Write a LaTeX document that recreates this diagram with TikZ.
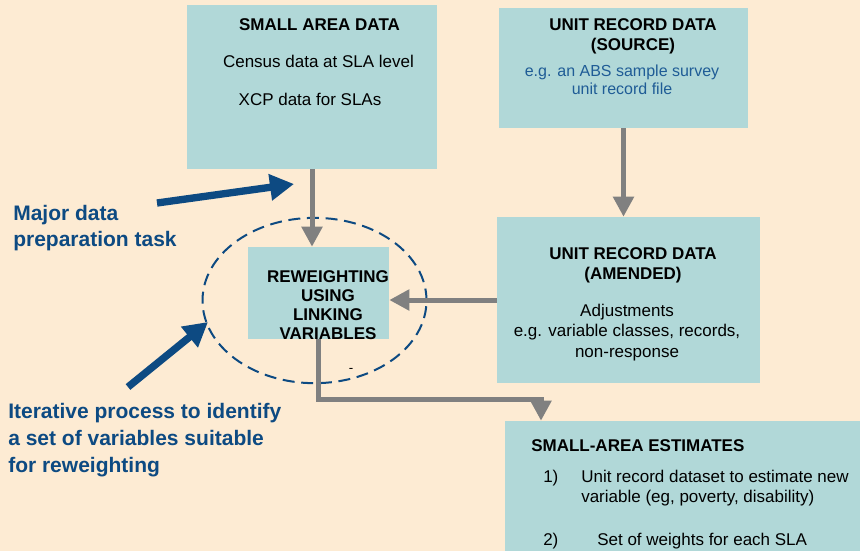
\documentclass[tikz,border=0pt]{standalone}
\usepackage{fontspec}
\setmainfont{Liberation Sans}
\usepackage{xcolor}
\usepackage{tikz}
\usetikzlibrary{shapes.geometric, arrows.meta, positioning, calc}
\definecolor{bgpeach}{HTML}{FDEBD3}
\definecolor{boxteal}{HTML}{B1D8D8}
\definecolor{noteblue}{HTML}{0D4A82}
\definecolor{egblue}{HTML}{1F5C96}
\definecolor{flowgray}{HTML}{808080}
\tikzset{
    databox/.style={rectangle, fill=boxteal, inner sep=0pt},
    boxtitle/.style={anchor=north, align=center, inner sep=0pt, font=\fontsize{12.75}{15}\selectfont\bfseries},
    boxtext/.style={anchor=north, align=center, inner sep=0pt, font=\fontsize{12.75}{15}\selectfont},
    itemtext/.style={anchor=north west, align=left, inner sep=0pt, font=\fontsize{12.75}{15}\selectfont},
    note/.style={anchor=north west, align=left, inner sep=0pt, text=noteblue, font=\fontsize{15.75}{19.5}\selectfont\bfseries},
    flow/.style={-{Triangle[width=15pt,length=15pt]}, line width=3.75pt, draw=flowgray},
    pointer/.style={-{Triangle[width=19pt,length=18pt]}, line width=5.5pt, draw=noteblue},
    loopring/.style={ellipse, draw=noteblue, line width=1.5pt, dash pattern=on 9pt off 5pt, minimum width=168pt, minimum height=124pt}
}

\begin{document}
\begin{tikzpicture}[x=0.75pt, y=-0.75pt]
  \useasboundingbox (0,0) rectangle (860,551);
  \fill[bgpeach] (0,0) rectangle (860,551);

  % boxes
  \node[databox, minimum width=187.5pt, minimum height=123pt] (smallarea) at (312,87) {};
  \node[databox, minimum width=186.75pt, minimum height=90pt] (unitsrc) at (623.5,68) {};
  \node[databox, minimum width=105.75pt, minimum height=69pt] (reweight) at (318.5,293) {};
  \node[databox, minimum width=197.25pt, minimum height=124.5pt] (unitamd) at (628.5,300) {};
  \node[databox, minimum width=266.25pt, minimum height=97.5pt] (estimates) at (682.5,486) {};

  % iteration loop
  \node[loopring] (loop) at (314.5,300.5) {};
  \node[inner sep=0pt, font=\fontsize{10}{12}\selectfont] (tick) at (351,370) {-};

  % flow between boxes
  \draw[flow] (smallarea.south) -- (smallarea.south |- reweight.north);
  \draw[flow] (unitsrc.south) -- (unitsrc.south |- unitamd.north);
  \draw[flow] (unitamd.west) -- (unitamd.west -| reweight.east);
  \coordinate (elbow) at (541,399);
  \draw[flow] (reweight.south) |- (elbow) -- (elbow |- estimates.north);

  % box texts
  \node[boxtitle] (smallareaT) at (319.5,18.7) {SMALL AREA DATA};
  \node[boxtext] (census) at (318.5,54.7) {Census data at SLA level};
  \node[boxtext] (xcp) at (310,92.7) {XCP data for SLAs};

  \node[boxtitle] (unitsrcT) at (633,18.7) {UNIT RECORD DATA\\(SOURCE)};
  \node[boxtext, text=egblue, font=\fontsize{12}{13.5}\selectfont] (unitsrcE) at (622,64.4) {e.g. an ABS sample survey\\unit record file};

  \node[boxtitle, font=\fontsize{12.75}{14.25}\selectfont\bfseries] (reweightT) at (328,270) {REWEIGHTING\\USING\\LINKING\\VARIABLES};

  \node[boxtitle] (unitamdT) at (633,247.7) {UNIT RECORD DATA\\(AMENDED)};
  \node[boxtext, font=\fontsize{12.75}{15.4}\selectfont] (unitamdE) at (627,303.7) {Adjustments\\e.g. variable classes, records,\\non-response};

  \node[boxtitle, anchor=north west] (estimatesT) at (531,439.7) {SMALL-AREA ESTIMATES};
  \node[itemtext] (itemAnum) at (543,469.7) {1)};
  \node[itemtext] (itemA) at (581,469.7) {Unit record dataset to estimate new\\variable (eg, poverty, disability)};
  \node[itemtext] (itemBnum) at (543,532.7) {2)};
  \node[itemtext] (itemB) at (597,532.7) {Set of weights for each SLA};

  % side notes
  \node[note] (major) at (13,204.8) {Major data\\preparation task};
  \node[note, font=\fontsize{15.75}{20.25}\selectfont\bfseries] (iterative) at (8,402.8) {Iterative process to identify\\a set of variables suitable\\for reweighting};
  \coordinate (majortail) at (157,203);
  \coordinate (majortip) at (294,184);
  \draw[pointer] (majortail) -- (majortip);
  \coordinate (itertail) at (128,387);
  \coordinate (itertip) at (208,322);
  \draw[pointer] (itertail) -- (itertip);
\end{tikzpicture}
\end{document}
